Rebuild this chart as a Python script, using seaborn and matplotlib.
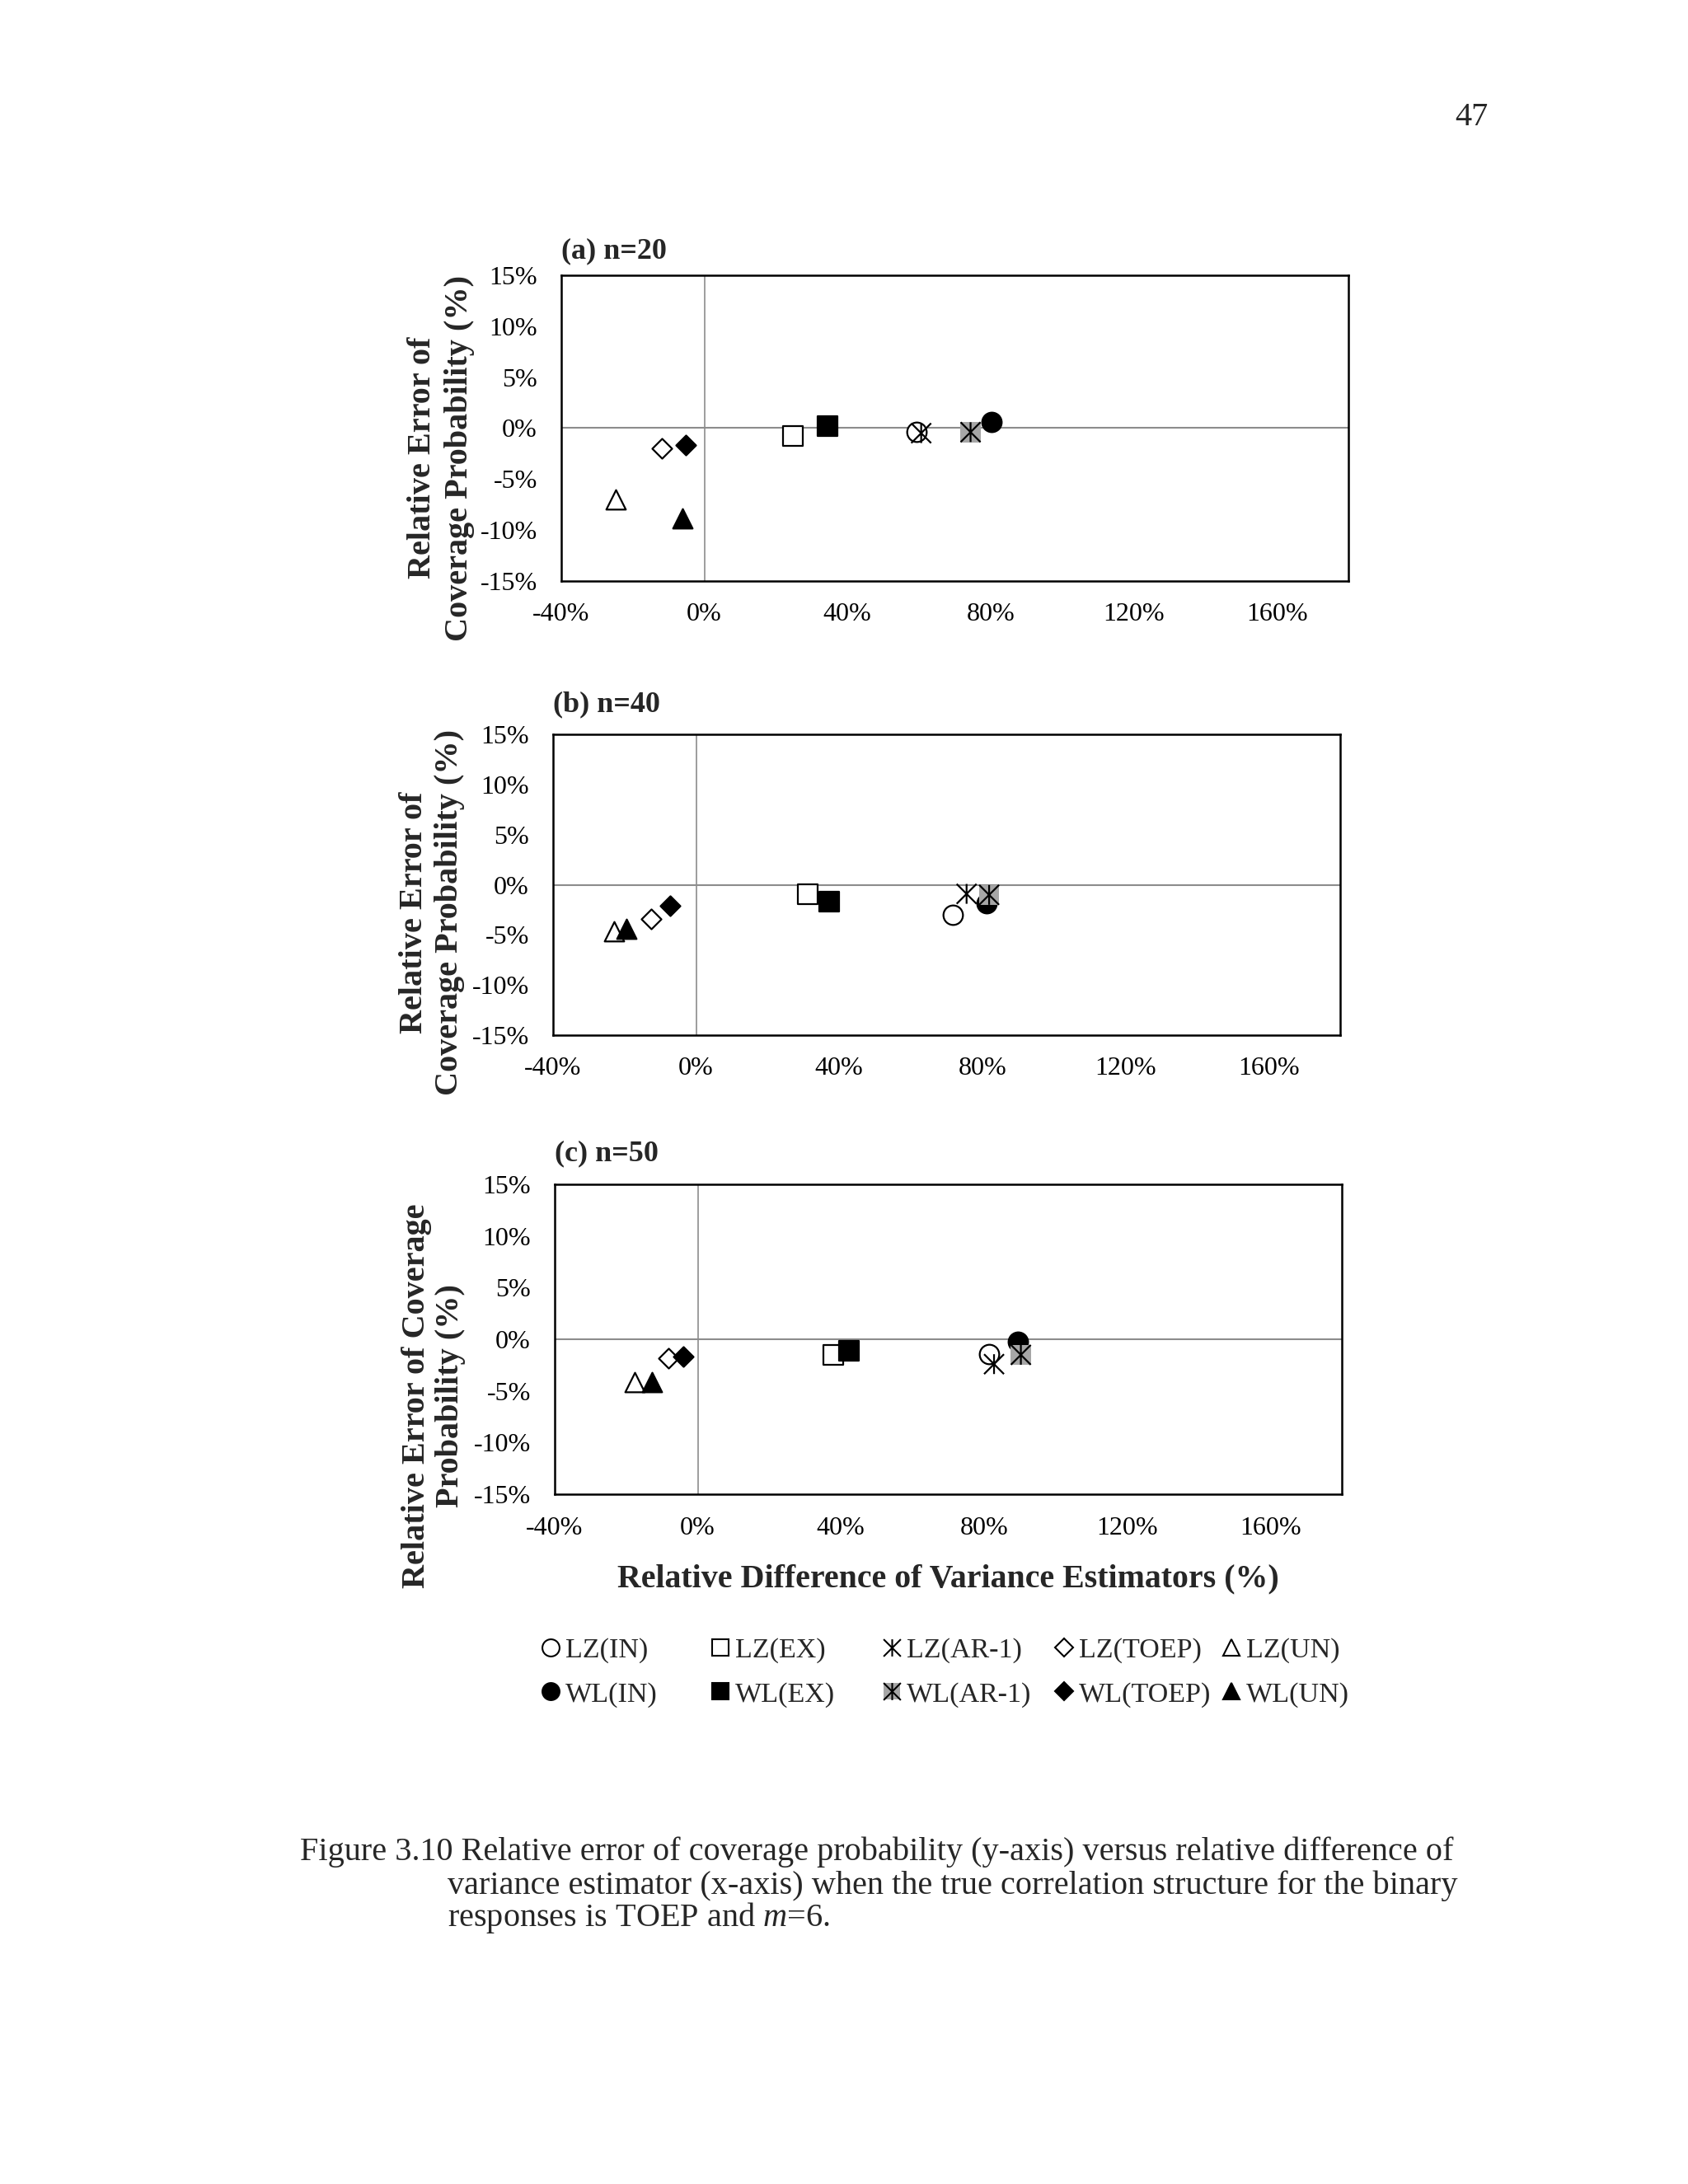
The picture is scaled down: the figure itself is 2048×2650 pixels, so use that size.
import numpy as np
import pandas as pd
import matplotlib
matplotlib.use("Agg")
import matplotlib.pyplot as plt
from matplotlib.path import Path
from matplotlib.lines import Line2D
from matplotlib.ticker import FuncFormatter
import seaborn as sns

# ---- данные (в процентах) ----
estimators = ["LZ(IN)", "LZ(EX)", "LZ(AR-1)", "LZ(TOEP)", "LZ(UN)",
              "WL(IN)", "WL(EX)", "WL(AR-1)", "WL(TOEP)", "WL(UN)"]

panel_titles = ["(a) n=20", "(b) n=40", "(c) n=50"]

# x: relative difference of variance estimators (%)
rel_diff_n20 = [59.4, 24.7, 60.6, -12.0, -24.8, 80.2, 34.5, 74.4, -5.3, -6.2]
rel_diff_n40 = [71.7, 31.1, 75.6, -12.5, -23.0, 81.1, 37.1, 81.9, -7.2, -19.5]
rel_diff_n50 = [81.4, 37.9, 82.8, -8.1, -17.6, 89.5, 42.2, 90.3, -4.1, -12.7]

# y: relative error of coverage probability (%)
rel_err_n20 = [-0.4, -0.8, -0.5, -2.0, -7.0, 0.6, 0.2, -0.4, -1.7, -8.9]
rel_err_n40 = [-3.0, -0.95, -0.9, -3.4, -4.6, -1.8, -1.7, -1.0, -2.1, -4.4]
rel_err_n50 = [-1.4, -1.5, -2.4, -1.8, -4.1, -0.2, -1.1, -1.5, -1.7, -4.1]

x_ticks = [-40, 0, 40, 80, 120, 160]
y_ticks = [-15, -10, -5, 0, 5, 10, 15]

ylabels = ["Relative Error of\nCoverage Probability (%)",
           "Relative Error of\nCoverage Probability (%)",
           "Relative Error of Coverage\nProbability (%)"]

frames = []
for title, xs, ys in zip(panel_titles,
                         [rel_diff_n20, rel_diff_n40, rel_diff_n50],
                         [rel_err_n20, rel_err_n40, rel_err_n50]):
    frames.append(pd.DataFrame({"panel": title, "estimator": estimators,
                                "rel_diff": xs, "rel_err": ys}))
df = pd.concat(frames, ignore_index=True)

sns.set_style("white")
plt.rcParams["font.family"] = ["Liberation Serif", "DejaVu Serif"]
plt.rcParams["mathtext.fontset"] = "custom"
plt.rcParams["mathtext.rm"] = "Liberation Serif"
plt.rcParams["mathtext.it"] = "Liberation Serif:italic"

# звёздочка как в Excel: вертикаль + крест
star = Path([(0, -1), (0, 1), (-1, -1), (1, 1), (-1, 1), (1, -1)],
            [Path.MOVETO, Path.LINETO] * 3)

GRAY = "#A6A6A6"
styles = {
    "LZ(IN)":   dict(marker="o", fc="white", ec="black", s=290),
    "LZ(EX)":   dict(marker="s", fc="white", ec="black", s=290),
    "LZ(AR-1)": dict(marker=star, fc="none", ec="black", s=300),
    "LZ(TOEP)": dict(marker="D", fc="white", ec="black", s=150),
    "LZ(UN)":   dict(marker="^", fc="white", ec="black", s=290),
    "WL(IN)":   dict(marker="o", fc="black", ec="black", s=290),
    "WL(EX)":   dict(marker="s", fc="black", ec="black", s=290),
    "WL(AR-1)": dict(marker="s", fc=GRAY, ec="none", s=310),
    "WL(TOEP)": dict(marker="D", fc="black", ec="black", s=150),
    "WL(UN)":   dict(marker="^", fc="black", ec="black", s=290),
}

fig = plt.figure(figsize=(20.48, 26.5), dpi=100)

# [left, bottom, width, height] в долях фигуры
axes_rects = [[0.3325, 0.7340, 0.4663, 0.1400],
              [0.3276, 0.5260, 0.4663, 0.1377],
              [0.3286, 0.3158, 0.4663, 0.1419]]
title_pads = [15, 20, 21]
ylabel_pos = [(0.2613, 0.7903), (0.2559, 0.5822), (0.2569, 0.3609)]
ylabel_ls = [1.28, 1.24, 1.16]

pct = FuncFormatter(lambda v, _: f"{v:.0f}%")

for i, title in enumerate(panel_titles):
    ax = fig.add_axes(axes_rects[i])
    sub = df[df["panel"] == title]

    ax.axhline(0, color="#8C8C8C", lw=1.5, zorder=1)
    ax.axvline(0, color="#8C8C8C", lw=1.2, zorder=1)

    for est in estimators:
        st = styles[est]
        pt = sub[sub["estimator"] == est]
        sns.scatterplot(data=pt, x="rel_diff", y="rel_err", ax=ax,
                        marker=st["marker"], s=st["s"],
                        facecolor=st["fc"], edgecolor=st["ec"],
                        linewidth=1.6, zorder=3, legend=False)
        if est == "WL(AR-1)":
            sns.scatterplot(data=pt, x="rel_diff", y="rel_err", ax=ax,
                            marker=star, s=300, facecolor="none",
                            edgecolor="black", linewidth=1.6, zorder=4,
                            legend=False)

    ax.set_xlim(-40, 180)
    ax.set_ylim(-15, 15)
    ax.set_xticks(x_ticks)
    ax.set_yticks(y_ticks)
    ax.xaxis.set_major_formatter(pct)
    ax.yaxis.set_major_formatter(pct)
    ax.tick_params(axis="both", length=0, labelsize=23, colors="black")
    ax.tick_params(axis="y", pad=21)
    ax.tick_params(axis="x", pad=19)
    for sp in ax.spines.values():
        sp.set_color("black")
        sp.set_linewidth(1.8)
        sp.set_visible(True)

    ax.set_xlabel("")
    ax.set_ylabel("")
    ax.set_title(title, loc="left", fontsize=26, fontweight="bold",
                 pad=title_pads[i])

    fig.text(ylabel_pos[i][0], ylabel_pos[i][1], ylabels[i], rotation=90,
             ha="center", va="center", multialignment="center",
             fontsize=29, fontweight="bold", linespacing=ylabel_ls[i])

    if i == 2:
        ax.set_xlabel("Relative Difference of Variance Estimators (%)",
                      fontsize=28.7, fontweight="bold", labelpad=21)

# легенда: 5 колонок по две строки
def handle(est, ms=15):
    st = styles[est]
    mk = st["marker"]
    h = Line2D([], [], linestyle="none", marker=mk,
               markersize=ms if mk != "D" else ms * 0.72,
               markerfacecolor=st["fc"], markeredgecolor=st["ec"],
               markeredgewidth=1.5)
    if est == "WL(AR-1)":
        h2 = Line2D([], [], linestyle="none", marker=star, markersize=ms,
                    markerfacecolor="none", markeredgecolor="black",
                    markeredgewidth=1.5)
        return (h, h2)
    return h

col_x = [0.3201, 0.4206, 0.522, 0.624, 0.7234]
for j in range(5):
    lz, wl = estimators[j], estimators[j + 5]
    fig.legend(handles=[handle(lz), handle(wl)], labels=[lz, wl],
               loc="upper left", bbox_to_anchor=(col_x[j], 0.2502),
               frameon=False, fontsize=24.5, handlelength=0.75,
               handletextpad=0.15, borderpad=0, borderaxespad=0,
               labelspacing=0.66)

# подпись и номер страницы
fig.text(0.8817, 0.9464, "47", ha="right", va="center", fontsize=29)
fig.text(364 / 2048, 0.1483,
         "Figure 3.10 Relative error of coverage probability (y-axis) versus relative difference of",
         ha="left", va="baseline", fontsize=29)
fig.text(543 / 2048, 0.1328,
         "variance estimator (x-axis) when the true correlation structure for the binary",
         ha="left", va="baseline", fontsize=29)
fig.text(543 / 2048, 0.1181, "responses is TOEP and $\\mathit{m}$=6.",
         ha="left", va="baseline", fontsize=29)

fig.savefig("out.png", dpi=100, facecolor="white")
